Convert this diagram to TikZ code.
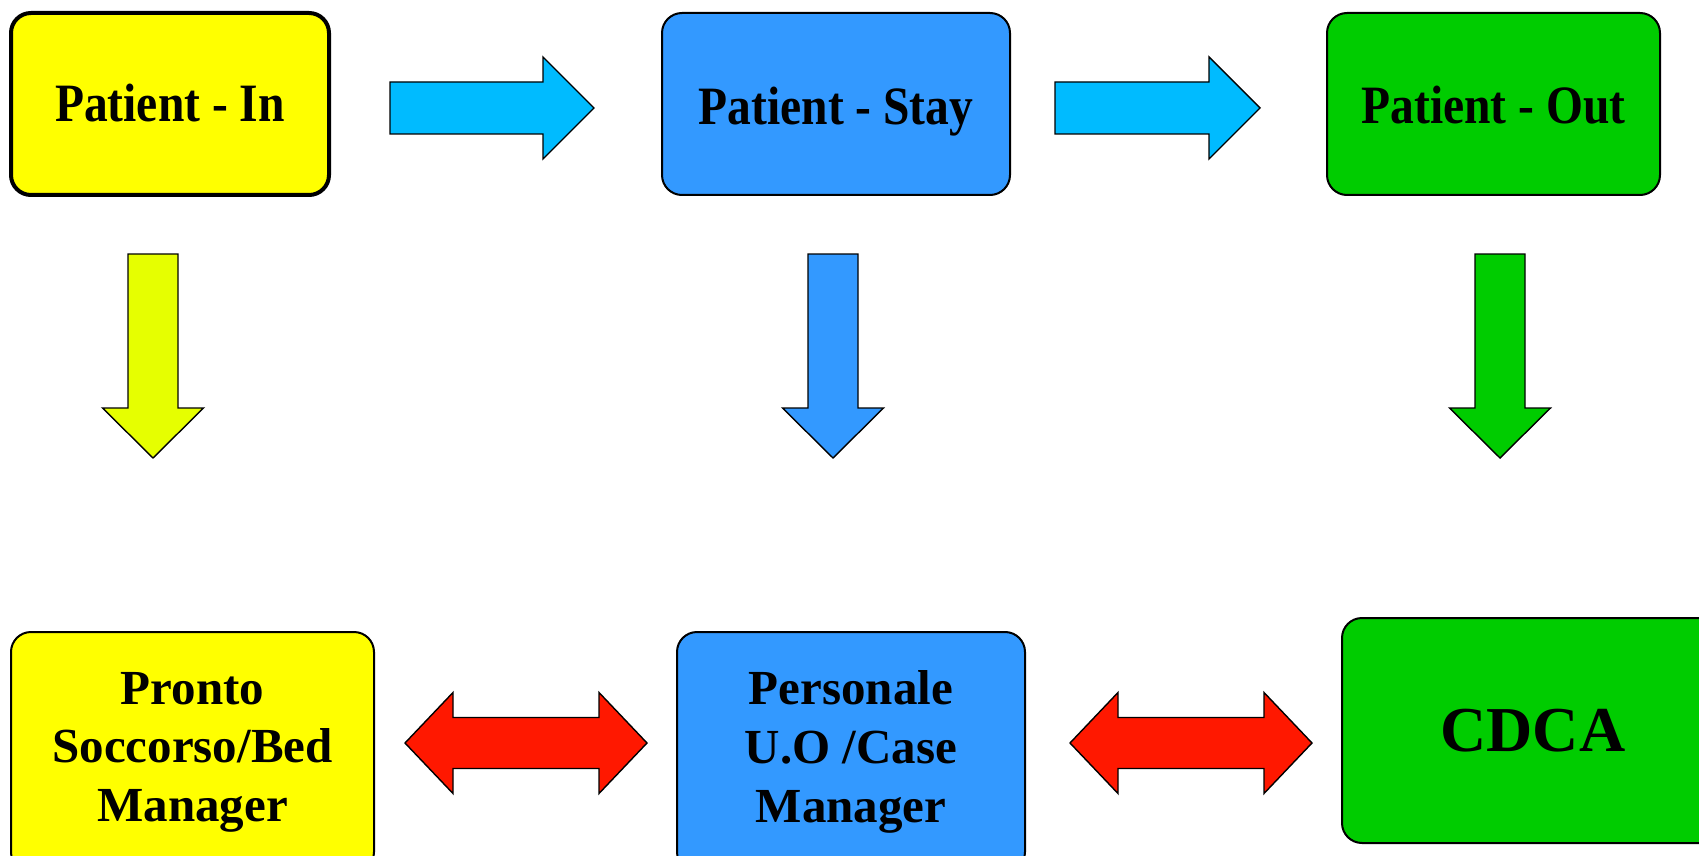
\documentclass[tikz,border=0pt]{standalone}
\usepackage{fontspec}
\setmainfont{Liberation Serif}
\newfontfamily\headfont[FakeStretch=0.88]{Liberation Serif}
\begin{document}
\begin{tikzpicture}[x=0.5pt,y=-0.5pt,
  box/.style={draw=black, line width=1pt, rounded corners=10pt, inner sep=0pt,
    align=center, text=black},
  headtxt/.style={font=\headfont\bfseries\fontsize{27pt}{30pt}\selectfont,
    text height=17.9pt, text depth=0pt},
  roletxt/.style={font=\bfseries\fontsize{24.5pt}{29.3pt}\selectfont},
  blockarrow/.style={draw=black, line width=0.7pt, line join=miter},
]
\definecolor{boxyellow}{RGB}{255,255,0}
\definecolor{boxblue}{RGB}{51,153,255}
\definecolor{boxgreen}{RGB}{0,204,0}
\definecolor{flowcyan}{RGB}{0,187,255}
\definecolor{downyellow}{RGB}{230,255,0}
\definecolor{linkred}{RGB}{255,24,0}

\useasboundingbox (0,0) rectangle (1699,856);

% top row: the three stages of the patient path
\node[box, fill=boxyellow, line width=2pt, minimum width=159pt, minimum height=91pt,
      headtxt] (in) at (170,104) {Patient - In};
\node[box, fill=boxblue, minimum width=174pt, minimum height=91pt,
      headtxt] (stay) at (836,104) {\raisebox{-1.5pt}{Patient - Stay}};
\node[box, fill=boxgreen, minimum width=166.5pt, minimum height=91pt,
      headtxt] (out) at (1493.5,104) {\raisebox{-1pt}{Patient - Out}};

% bottom row: who is responsible at each stage
\node[box, fill=boxyellow, minimum width=181.5pt, minimum height=120pt,
      roletxt] (ps) at (192.5,752) {Pronto\\Soccorso/Bed\\Manager};
\node[box, fill=boxblue, minimum width=174pt, minimum height=120pt,
      roletxt] (uo) at (851,752) {Personale\\U.O /Case\\Manager};
\node[box, fill=boxgreen, minimum width=191pt, minimum height=112.5pt,
      font=\bfseries\fontsize{32pt}{36pt}\selectfont] (cdca) at (1533,730.5) {CDCA};

% right-pointing block arrows between the stages
\foreach \xa/\xb/\xc in {390/543/594, 1055/1209/1260}{
  \draw[blockarrow, fill=flowcyan]
    (\xa,82) -- (\xb,82) -- (\xb,57) -- (\xc,108) -- (\xb,159) -- (\xb,134)
    -- (\xa,134) -- cycle;
}

% downward block arrows from each stage to its role
\foreach \xm/\col in {153/downyellow, 833/boxblue, 1500/boxgreen}{
  \draw[blockarrow, fill=\col]
    (\xm-25,254) -- (\xm+25,254) -- (\xm+25,408) -- (\xm+50.5,408)
    -- (\xm,458) -- (\xm-50.5,408) -- (\xm-25,408) -- cycle;
}

% two-way block arrows between the roles
\foreach \xa/\xb/\xc/\xd in {405/453/599/647, 1070/1118/1264/1312}{
  \draw[blockarrow, fill=linkred]
    (\xa,743) -- (\xb,692.5) -- (\xb,717.5) -- (\xc,717.5) -- (\xc,692.5)
    -- (\xd,743) -- (\xc,793.5) -- (\xc,768.5) -- (\xb,768.5) -- (\xb,793.5)
    -- cycle;
}
\end{tikzpicture}
\end{document}
